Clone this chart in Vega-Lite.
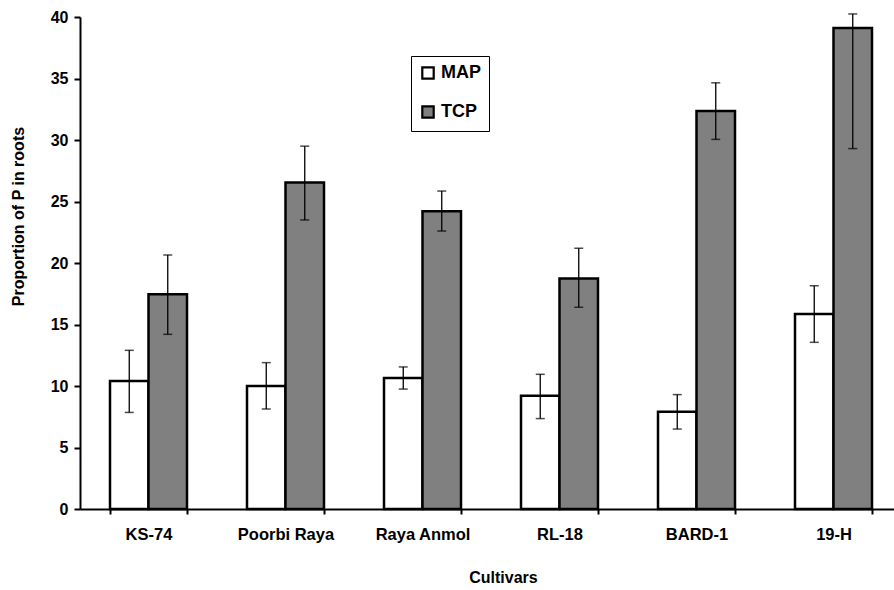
{
  "$schema": "https://vega.github.io/schema/vega-lite/v6.json",
  "autosize": {"type": "none"},
  "width": 814,
  "height": 492,
  "padding": {"left": 80, "top": 17, "right": 0, "bottom": 81},
  "background": "white",
  "config": {
    "view": {"stroke": null},
    "font": "Liberation Sans",
    "axis": {"grid": false, "domainColor": "black", "tickColor": "black", "labelColor": "black", "titleColor": "black", "labelFontWeight": "bold", "titleFontWeight": "bold"}
  },
  "data": {
    "values": [
      {"cultivar": "KS-74", "treatment": "MAP", "value": 10.4, "lo": 7.85, "hi": 12.9},
      {"cultivar": "KS-74", "treatment": "TCP", "value": 17.45, "lo": 14.2, "hi": 20.65},
      {"cultivar": "Poorbi Raya", "treatment": "MAP", "value": 10.0, "lo": 8.13, "hi": 11.9},
      {"cultivar": "Poorbi Raya", "treatment": "TCP", "value": 26.55, "lo": 23.5, "hi": 29.5},
      {"cultivar": "Raya Anmol", "treatment": "MAP", "value": 10.65, "lo": 9.75, "hi": 11.55},
      {"cultivar": "Raya Anmol", "treatment": "TCP", "value": 24.2, "lo": 22.6, "hi": 25.85},
      {"cultivar": "RL-18", "treatment": "MAP", "value": 9.2, "lo": 7.35, "hi": 10.95},
      {"cultivar": "RL-18", "treatment": "TCP", "value": 18.75, "lo": 16.4, "hi": 21.2},
      {"cultivar": "BARD-1", "treatment": "MAP", "value": 7.9, "lo": 6.5, "hi": 9.3},
      {"cultivar": "BARD-1", "treatment": "TCP", "value": 32.35, "lo": 30.05, "hi": 34.65},
      {"cultivar": "19-H", "treatment": "MAP", "value": 15.85, "lo": 13.55, "hi": 18.15},
      {"cultivar": "19-H", "treatment": "TCP", "value": 39.1, "lo": 29.3, "hi": 40.25}
    ]
  },
  "encoding": {
    "x": {
      "field": "cultivar", "type": "nominal", "sort": null,
      "scale": {"range": [0, 822], "paddingInner": 0.438, "paddingOuter": 0.219},
      "axis": {
        "title": "Cultivars", "labelAngle": 0, "labelFontSize": 16.5, "labelPadding": 12,
        "tickBand": "extent", "tickSize": 5, "tickWidth": 2, "domainWidth": 2,
        "titleFontSize": 16, "titleX": 423, "titleY": 68, "titleBaseline": "middle"
      }
    },
    "xOffset": {"field": "treatment", "type": "nominal", "scale": {"paddingInner": 0, "paddingOuter": 0}}
  },
  "layer": [
    {
      "mark": {"type": "bar", "stroke": "black", "strokeWidth": 2.5, "clip": false},
      "encoding": {
        "y": {
          "field": "value", "type": "quantitative",
          "scale": {"domain": [0, 40], "nice": false},
          "axis": {
            "title": "Proportion of P in roots", "values": [0, 5, 10, 15, 20, 25, 30, 35, 40],
            "labelFontSize": 16, "labelPadding": 6, "tickSize": 6, "tickWidth": 2, "domainWidth": 2,
            "titleFontSize": 16, "titleX": -62, "titleY": 199, "titleAngle": -90,
            "titleAlign": "center", "titleBaseline": "middle"
          }
        },
        "fill": {
          "field": "treatment", "type": "nominal",
          "scale": {"domain": ["MAP", "TCP"], "range": ["#ffffff", "#808080"]},
          "legend": {
            "title": null, "orient": "none", "legendX": 331, "legendY": 39,
            "symbolType": "square", "symbolSize": 130, "symbolStrokeColor": "black", "symbolStrokeWidth": 2.2,
            "labelFontSize": 18, "labelFontWeight": "bold", "labelColor": "black", "labelOffset": 4,
            "rowPadding": 17, "strokeColor": "black", "padding": 8, "fillColor": "white"
          }
        }
      }
    },
    {
      "mark": {"type": "rule", "color": "black", "strokeWidth": 1.3, "clip": false},
      "encoding": {
        "y": {"field": "lo", "type": "quantitative"},
        "y2": {"field": "hi"}
      }
    },
    {
      "mark": {"type": "tick", "color": "black", "thickness": 1.5, "size": 9, "clip": false},
      "encoding": {"y": {"field": "lo", "type": "quantitative"}}
    },
    {
      "mark": {"type": "tick", "color": "black", "thickness": 1.5, "size": 9, "clip": false},
      "encoding": {"y": {"field": "hi", "type": "quantitative"}}
    }
  ]
}
